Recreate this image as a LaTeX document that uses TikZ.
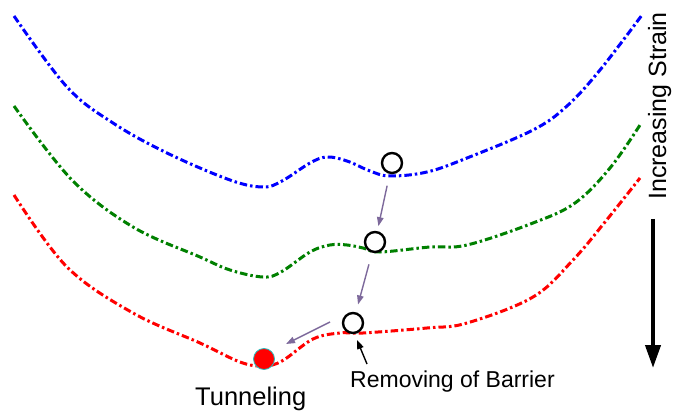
\documentclass[tikz,border=0pt]{standalone}
\usepackage{fontspec}
\setmainfont{Liberation Sans}
\usetikzlibrary{arrows.meta}
\definecolor{cblue}{RGB}{0,0,255}
\definecolor{cgreen}{RGB}{0,128,0}
\definecolor{cred}{RGB}{255,0,0}
\definecolor{cpurp}{RGB}{125,105,155}
\definecolor{cteal}{RGB}{40,190,190}
\begin{document}
\begin{tikzpicture}[x=1pt,y=-1pt,
  curve/.style={line width=3pt, dash pattern=on 7.5pt off 3pt on 2.5pt off 3pt, smooth, tension=0.6},
  ball/.style={circle, draw=black, line width=2.4pt, fill=white, minimum size=20pt, inner sep=0pt},
  redball/.style={circle, draw=cteal, line width=0.8pt, fill=cred, minimum size=21pt, inner sep=0pt},
  parr/.style={draw=cpurp, line width=1.4pt, -{Triangle[length=9pt,width=6.5pt]}},
  barr/.style={draw=black, line width=1.4pt, -{Triangle[length=9pt,width=6.5pt]}},
  bigarr/.style={draw=black, line width=4pt, -{Triangle[length=23pt,width=15pt]}},
  lbl/.style={inner sep=0pt, text=black}]
\useasboundingbox (0,0) rectangle (676,419);
% curves
\draw[curve, cblue] plot coordinates {(14,16) (67,87) (113,123) (167,153) (230,180) (263,187) (282,181) (310,163) (327,157) (347,161) (370,171) (390,176) (427,172) (467,158) (533,130) (567,106) (600,70) (642,15)};
\draw[curve, cgreen] plot coordinates {(14,106) (72,180) (133,227) (200,257) (230,270) (263,277) (281,272) (310,252) (330,245) (347,245) (363,248) (380,252) (430,247) (467,245) (533,223) (575,203) (610,168) (640,125)};
\draw[curve, cred] plot coordinates {(14,195) (67,267) (133,313) (200,343) (240,362) (263,366) (282,361) (313,339) (340,333) (363,333) (427,328) (467,323) (533,297) (573,260) (605,222) (640,178)};
% balls
\node[ball] (c1) at (392,163) {};
\node[ball] (c2) at (375,242) {};
\node[ball] (c3) at (353,323) {};
\node[redball] (d) at (264,359) {};
% purple arrows
\draw[parr, shorten <=12pt, shorten >=5pt] (c1) -- (c2);
\draw[parr, shorten <=12pt, shorten >=8pt] (c2) -- (c3);
\coordinate (a3s) at (330,322);
\coordinate (a3e) at (286,344);
\draw[parr] (a3s) -- (a3e);
% labels
\node[lbl, anchor=base west, font=\fontsize{23}{27}\selectfont] (bar) at (350,387) {Removing of Barrier};
\node[lbl, anchor=base west, font=\fontsize{25.5}{29}\selectfont] (tun) at (195,405) {Tunneling};
\node[lbl, anchor=base west, rotate=90, font=\fontsize{25}{29}\selectfont] (strain) at (666,200) {Increasing Strain};
% black arrow to barrier
\coordinate (b1) at (367,364);
\coordinate (b2) at (357,340);
\draw[barr] (b1) -- (b2);
% strain arrow
\coordinate (s1) at (653,219);
\coordinate (s2) at (653,368);
\draw[bigarr] (s1) -- (s2);
\end{tikzpicture}
\end{document}
